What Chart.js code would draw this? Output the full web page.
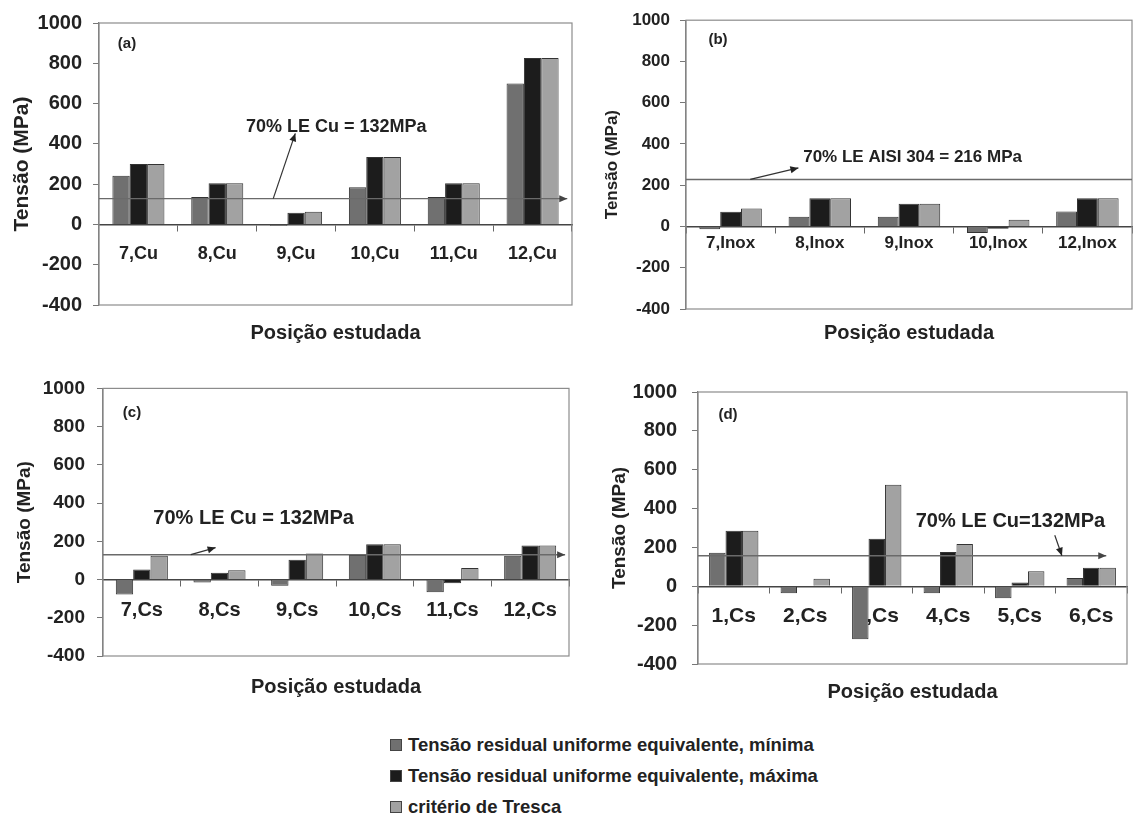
<!DOCTYPE html>
<html><head><meta charset="utf-8">
<script src="https://cdn.jsdelivr.net/npm/chart.js@4.4.1/dist/chart.umd.min.js"></script>
<style>
body{margin:0;background:#fff;width:1134px;height:818px;position:relative;overflow:hidden;font-family:"Liberation Sans",Arial,sans-serif;}
canvas{position:absolute;}
.leg{position:absolute;left:390px;height:24px;display:flex;align-items:center;font:bold 18.5px "Liberation Sans",Arial,sans-serif;color:#222;white-space:nowrap;}
.sw{width:10px;height:10px;border:1px solid #444;margin-right:6px;}
</style></head><body>
<canvas id="ca" width="580" height="350" style="left:0;top:0"></canvas>
<canvas id="cb" width="544" height="350" style="left:590px;top:0"></canvas>
<canvas id="cc" width="577" height="339" style="left:0;top:365px"></canvas>
<canvas id="cd" width="544" height="344" style="left:590px;top:365px"></canvas>
<div id="legend"></div>
<script>
// ---- data ----
const seriesNames = ['Tensão residual uniforme equivalente, mínima','Tensão residual uniforme equivalente, máxima','critério de Tresca'];
const seriesColors = ['#707070','#1c1c1c','#a2a2a2'];
const yTicks = [-400,-200,0,200,400,600,800,1000];
const yTitle = 'Tensão (MPa)';
const xTitle = 'Posição estudada';

const catsA = ['7,Cu','8,Cu','9,Cu','10,Cu','11,Cu','12,Cu'];
const minA = [242, 136, -6, 185, 136, 700];
const maxA = [300, 204, 58, 335, 204, 826];
const trescaA = [300, 204, 63, 335, 204, 826];

const catsB = ['7,Inox','8,Inox','9,Inox','10,Inox','12,Inox'];
const minB = [-14, 47, 47, -31, 73];
const maxB = [71, 137, 110, -11, 137];
const trescaB = [87, 137, 110, 33, 137];

const catsC = ['7,Cs','8,Cs','9,Cs','10,Cs','11,Cs','12,Cs'];
const minC = [-78, -15, -33, 128, -66, 125];
const maxC = [52, 35, 104, 184, -19, 178];
const trescaC = [125, 48, 136, 184, 61, 178];

const catsD = ['1,Cs','2,Cs','3,Cs','4,Cs','5,Cs','6,Cs'];
const minD = [172, -36, -272, -36, -61, 43];
const maxD = [286, 0, 245, 177, 19, 95];
const trescaD = [286, 39, 522, 218, 77, 95];

const thresholds = [128, 228, 130, 157];
const thresholdLabels = ['70% LE Cu = 132MPa','70% LE AISI 304 = 216 MPa','70% LE Cu = 132MPa','70% LE Cu=132MPa'];
const panelLetters = ['(a)','(b)','(c)','(d)'];

// ---- drawing helpers ----
const FAM = '"Liberation Sans", Arial, sans-serif';
function arrow(c, x1, y1, x2, y2, head) {
  c.beginPath(); c.moveTo(x1, y1); c.lineTo(x2, y2); c.stroke();
  if (!head) return;
  const ang = Math.atan2(y2 - y1, x2 - x1), L = 8, W = 3.5;
  c.beginPath();
  c.moveTo(x2, y2);
  c.lineTo(x2 - L*Math.cos(ang) + W*Math.sin(ang), y2 - L*Math.sin(ang) - W*Math.cos(ang));
  c.lineTo(x2 - L*Math.cos(ang) - W*Math.sin(ang), y2 - L*Math.sin(ang) + W*Math.cos(ang));
  c.closePath(); c.fill();
}
const decorPlugin = {
  id: 'decor',
  beforeDatasetsDraw(chart) {
    const a = chart.chartArea, c = chart.ctx;
    c.save(); c.strokeStyle = '#8c8c8c'; c.lineWidth = 1.2;
    c.strokeRect(a.left, a.top, a.right - a.left, a.bottom - a.top);
    c.restore();
  },
  afterDatasetsDraw(chart, args, o) {
    const a = chart.chartArea, c = chart.ctx, xs = chart.scales.x, ys = chart.scales.y;
    c.save();
    c.strokeStyle = '#6a6a6a'; c.fillStyle = '#444'; c.lineWidth = 1.4;
    const ty = ys.getPixelForValue(o.threshold);
    const xe = o.lineEnd == null ? a.right : xs.getPixelForValue(o.lineEnd);
    arrow(c, a.left, ty, xe, ty, o.lineEnd != null);
    c.strokeStyle = '#333'; c.fillStyle = '#222'; c.lineWidth = 1.2;
    arrow(c, xs.getPixelForValue(o.arrow[0]), ys.getPixelForValue(o.arrow[1]),
             xs.getPixelForValue(o.arrow[2]), ys.getPixelForValue(o.arrow[3]), true);
    c.fillStyle = '#222'; c.textAlign = 'center'; c.textBaseline = 'middle';
    c.font = 'bold ' + o.labelSize + 'px ' + FAM;
    c.fillText(o.label, xs.getPixelForValue(o.labelAt[0]), ys.getPixelForValue(o.labelAt[1]));
    c.font = 'bold 15px ' + FAM;
    c.fillText(o.letter, a.left + o.letterOff[0], a.top + o.letterOff[1]);
    c.restore();
  }
};

function makeChart(id, cats, mins, maxs, trs, k) {
  const data = [mins, maxs, trs];
  return new Chart(document.getElementById(id), {
    type: 'bar',
    data: {
      labels: cats,
      datasets: data.map((d, i) => ({
        label: seriesNames[i], data: d, xAxisID: 'x', yAxisID: 'y',
        backgroundColor: seriesColors[i], borderColor: '#333', borderWidth: 1
      }))
    },
    options: {
      responsive: false, animation: false, devicePixelRatio: 1,
      layout: { padding: k.pad },
      datasets: { bar: { categoryPercentage: k.catPct, barPercentage: 1 } },
      plugins: {
        legend: { display: false }, tooltip: { enabled: false },
        decor: k.decor
      },
      scales: {
        x: {
          position: { y: 0 }, offset: true,
          grid: { display: true, drawOnChartArea: false, drawTicks: true, tickLength: 6, color: '#666', offset: true },
          border: { display: true, color: '#444', width: 1.5 },
          ticks: { font: { family: FAM, size: k.xFont, weight: 'bold' }, color: '#222', padding: k.xPad, maxRotation: 0, autoSkip: false }
        },
        xt: {
          type: 'category', labels: cats, position: 'bottom', offset: true,
          grid: { display: false }, border: { display: false }, ticks: { display: false },
          title: { display: true, text: xTitle, color: '#222', font: { family: FAM, size: 20, weight: 'bold' }, padding: { top: 0, bottom: 5 } },
          afterFit: s => { s.height = k.xtH; }
        },
        y: {
          position: 'left', min: -400, max: 1000,
          afterBuildTicks: s => { s.ticks = yTicks.map(v => ({ value: v })); },
          grid: { drawOnChartArea: false, drawTicks: true, tickLength: 6, color: '#777' },
          border: { display: true, color: '#777', width: 1.2 },
          ticks: { font: { family: FAM, size: k.yFont, weight: 'bold' }, color: '#222', padding: k.yPad, callback: v => String(v) },
          title: { display: true, text: yTitle, color: '#222', font: { family: FAM, size: k.yTitleFont, weight: 'bold' }, padding: { top: k.yTitlePad, bottom: 0 } },
          afterFit: s => { s.width = k.yW; }
        }
      }
    },
    plugins: [decorPlugin]
  });
}

makeChart('ca', catsA, minA, maxA, trescaA, {
  pad: { left: 0, top: 17, right: 8, bottom: 0 }, catPct: 0.66, xtH: 45, yW: 99,
  xFont: 18, xPad: 13, yFont: 20, yPad: 11, yTitleFont: 21, yTitlePad: 9.4,
  decor: { threshold: thresholds[0], lineEnd: 5.44, arrow: [1.71, thresholds[0], 1.99, 452],
           label: thresholdLabels[0], labelAt: [2.51, 486], labelSize: 18, letter: panelLetters[0], letterOff: [28, 21] }
});
makeChart('cb', catsB, minB, maxB, trescaB, {
  pad: { left: 0, top: 15, right: 2, bottom: 0 }, catPct: 0.70, xtH: 41, yW: 96,
  xFont: 17, xPad: 1, yFont: 17, yPad: 10, yTitleFont: 17, yTitlePad: 11.8,
  decor: { threshold: thresholds[1], lineEnd: null, arrow: [0.22, thresholds[1], 0.76, 284],
           label: thresholdLabels[1], labelAt: [2.04, 336], labelSize: 17, letter: panelLetters[1], letterOff: [32, 20] }
});
makeChart('cc', catsC, minC, maxC, trescaC, {
  pad: { left: 0, top: 23, right: 8, bottom: 0 }, catPct: 0.67, xtH: 48, yW: 103,
  xFont: 20, xPad: 13, yFont: 19, yPad: 12, yTitleFont: 19, yTitlePad: 13.6,
  decor: { threshold: thresholds[2], lineEnd: 5.45, arrow: [0.63, thresholds[2], 0.95, 167],
           label: thresholdLabels[2], labelAt: [1.44, 318], labelSize: 20, letter: panelLetters[2], letterOff: [29, 24] }
});
makeChart('cd', catsD, minD, maxD, trescaD, {
  pad: { left: 0, top: 25, right: 7, bottom: 0 }, catPct: 0.69, xtH: 45, yW: 108,
  xFont: 21, xPad: 11.5, yFont: 20, yPad: 15, yTitleFont: 19, yTitlePad: 18.6,
  decor: { threshold: thresholds[3], lineEnd: 5.21, arrow: [4.49, 263, 4.59, thresholds[3]],
           label: thresholdLabels[3], labelAt: [3.87, 334], labelSize: 20, letter: panelLetters[3], letterOff: [30, 23] }
});

// legend
const legendTops = [733, 764, 795];
const lg = document.getElementById('legend');
seriesNames.forEach((n, i) => {
  const d = document.createElement('div'); d.className = 'leg'; d.style.top = legendTops[i] + 'px';
  const s = document.createElement('span'); s.className = 'sw'; s.style.background = seriesColors[i];
  d.appendChild(s); d.appendChild(document.createTextNode(n)); lg.appendChild(d);
});
</script>
</body></html>
